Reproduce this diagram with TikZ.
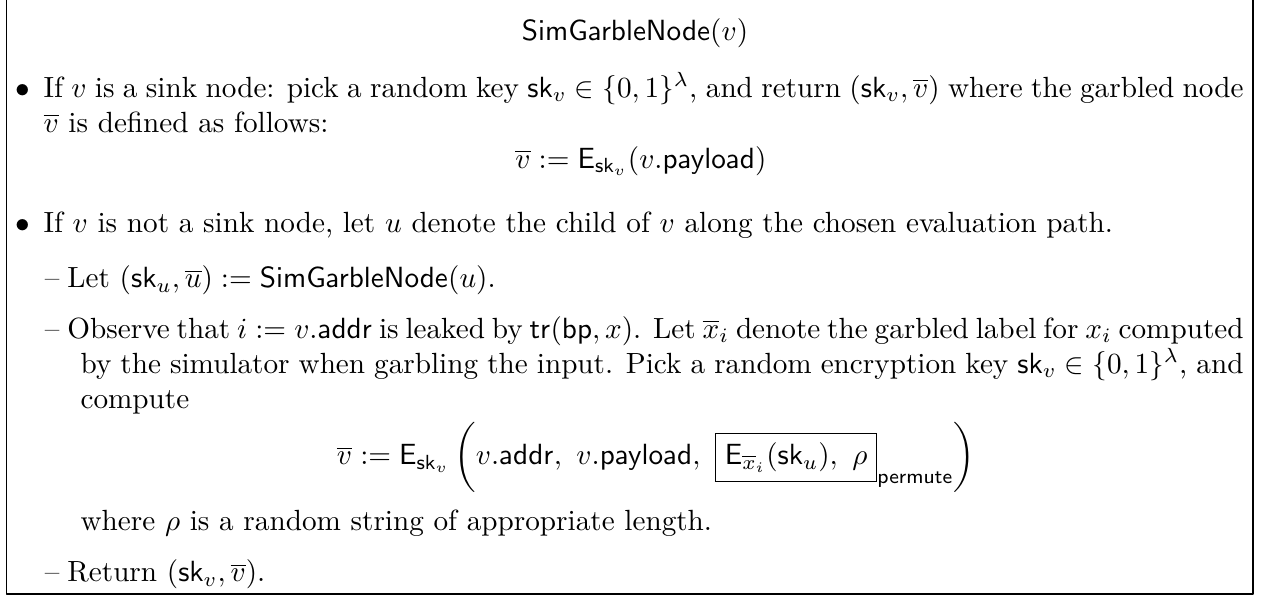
\documentclass[tikz,border=0pt]{standalone}
\usepackage{amsmath}
\newcommand{\sk}{\mathsf{sk}}
\newcommand{\Enc}{\mathsf{E}}
\newcommand{\simgn}{\mathsf{SimGarbleNode}}
\newcommand{\fullline}[2]{\makebox[#1][s]{#2}}
\begin{document}
\begin{tikzpicture}[x=1pt,y=1pt,line cap=round,line join=round,
  txt/.style={anchor=base west,inner sep=0pt},
  disp/.style={anchor=base,inner sep=0pt}]
  \useasboundingbox (0,0) rectangle (432.9,-204.1);
  % frame (top edge cut off)
  \draw[line width=0.4pt] (2.2,2) -- (2.2,-203.4) -- (429.1,-203.4) -- (429.1,2);
  \node[disp] (title) at (217.5,-13.7) {$\simgn(v)$};
  % first bullet
  \node[txt] (b1) at (5.2,-33.3) {$\bullet$};
  \node[txt] (sinka) at (14.7,-33.3) {\fullline{411pt}{If $v$ is a sink node: pick a random key $\sk_v\in\{0,1\}^\lambda$, and return $(\sk_v,\overline{v})$ where the garbled node}};
  \node[txt] (sinkb) at (14.7,-45.3) {$\overline{v}$ is defined as follows:};
  \node[disp] (disp1) at (219.5,-57.6) {$\overline{v} := \Enc_{\sk_v}(v.\mathsf{payload})$};
  % second bullet
  \node[txt] (b2) at (5.2,-79.5) {$\bullet$};
  \node[txt] (inner) at (14.7,-79.5) {If $v$ is not a sink node, let $u$ denote the child of $v$ along the chosen evaluation path.};
  \node[txt] (d1) at (15.2,-98.6) {\textendash};
  \node[txt] (let) at (22.9,-98.6) {Let $(\sk_u,\overline{u}) := \simgn(u)$.};
  \node[txt] (d2) at (15.2,-115.8) {\textendash};
  \node[txt] (obsa) at (22.9,-115.8) {\fullline{402.8pt}{Observe that $i := v.\mathsf{addr}$ is leaked by $\mathsf{tr}(\mathsf{bp},x)$. Let $\overline{x}_i$ denote the garbled label for $x_i$ computed}};
  \node[txt] (obsb) at (27.4,-127.8) {\fullline{398.3pt}{by the simulator when garbling the input. Pick a random encryption key $\sk_v\in\{0,1\}^\lambda$, and}};
  \node[txt] (obsc) at (27.4,-139.8) {compute};
  \node[disp] (disp2) at (224.7,-159.2) {$\displaystyle\overline{v} := \Enc_{\sk_v}\left(v.\mathsf{addr},\ v.\mathsf{payload},\ \boxed{\Enc_{\overline{x}_i}(\sk_u),\ \rho}_{\mathsf{permute}}\right)$};
  \node[txt] (rho) at (27.4,-181.8) {where $\rho$ is a random string of appropriate length.};
  \node[txt] (d3) at (15.2,-199.3) {\textendash};
  \node[txt] (ret) at (22.9,-199.3) {Return $(\sk_v,\overline{v})$.};
\end{tikzpicture}
\end{document}
